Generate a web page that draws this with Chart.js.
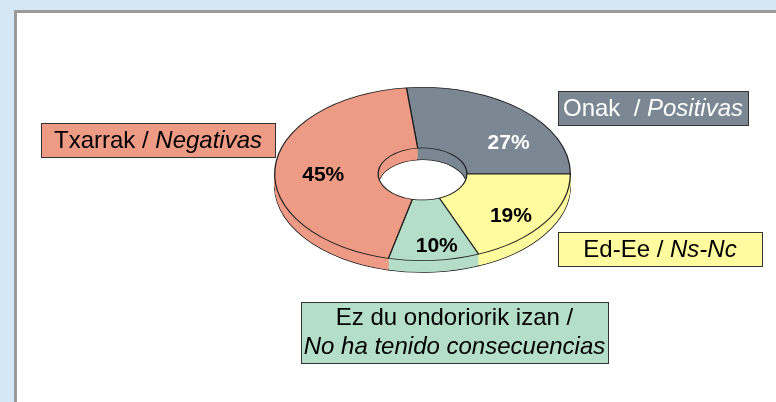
<!DOCTYPE html>
<html>
<head>
<meta charset="utf-8">
<script src="https://cdn.jsdelivr.net/npm/chart.js@4/dist/chart.umd.min.js"></script>
<style>
  html, body { margin: 0; padding: 0; }
  body { width: 776px; height: 402px; background: #d5e7f5; position: relative; overflow: hidden; }
  #panel { position: absolute; left: 14px; top: 10px; right: -10px; bottom: -10px;
           background: #fff; border-left: 3px solid #9a9a9a; border-top: 3px solid #9a9a9a; }
  #chart { position: absolute; left: 0; top: 0; }
</style>
</head>
<body>
<div id="panel"></div>
<canvas id="chart" width="776" height="402"></canvas>
<script>
// data
var labelsEu = ['Onak', 'Ed-Ee', 'Ez du ondoriorik izan', 'Txarrak'];
var labelsEs = ['Positivas', 'Ns-Nc', 'No ha tenido consecuencias', 'Negativas'];
var percents = [27, 19, 10, 45];
var sliceColors = ['#7b8894', '#fffb9e', '#b5dec8', '#ee9b86'];
var textColors = ['#ffffff', '#000000', '#000000', '#000000'];

// 3d look: squash the ring and stack copies under it for the side wall
var tiltPlugin = {
  id: 'tilt',
  beforeDatasetsDraw: function (chart, args, opts) {
    var ctx = chart.ctx;
    var meta = chart.getDatasetMeta(0);
    var cx = meta.data[0].x, cy = meta.data[0].y;
    ctx.save();
    ctx.translate(cx, opts.centerY);
    ctx.scale(1, opts.ratio);
    ctx.translate(-cx, -cy);
    var depth = Math.round(opts.depth / opts.ratio);
    for (var d = depth; d >= 1; d--) {
      ctx.save();
      ctx.translate(0, d);
      meta.data.forEach(function (arc) {
        var o = arc.options;
        if (d < depth) arc.options = Object.assign({}, o, { borderWidth: 0 });
        arc.draw(ctx);
        arc.options = o;
      });
      ctx.restore();
    }
  },
  afterDatasetsDraw: function (chart) {
    chart.ctx.restore();
  }
};

// percent labels and the label boxes
var labelPlugin = {
  id: 'boxLabels',
  afterDraw: function (chart, args, opts) {
    var ctx = chart.ctx;
    var meta = chart.getDatasetMeta(0);
    var ratio = chart.options.plugins.tilt.ratio;
    var centerY = chart.options.plugins.tilt.centerY;
    var ds = chart.data.datasets[0];

    ctx.save();
    ctx.textAlign = 'center';
    ctx.textBaseline = 'middle';
    ctx.font = 'bold 21px "Liberation Sans", Arial, sans-serif';
    meta.data.forEach(function (arc, i) {
      var mid = (arc.startAngle + arc.endAngle) / 2;
      var r = arc.outerRadius * 0.72;
      var x = arc.x + Math.cos(mid) * r + opts.nudge[i][0];
      var y = centerY + Math.sin(mid) * r * ratio + opts.nudge[i][1];
      ctx.fillStyle = textColors[i];
      ctx.fillText(ds.data[i] + '%', x, y);
    });

    var normal = '24px "Liberation Sans", Arial, sans-serif';
    var italic = 'italic 24px "Liberation Sans", Arial, sans-serif';
    opts.boxes.forEach(function (b, i) {
      ctx.fillStyle = ds.backgroundColor[i];
      ctx.fillRect(b.x, b.y, b.w, b.h);
      ctx.strokeStyle = '#333';
      ctx.lineWidth = 1;
      ctx.strokeRect(b.x + 0.5, b.y + 0.5, b.w, b.h);
      ctx.fillStyle = textColors[i];
      ctx.textAlign = 'left';
      var eu = chart.data.labels[i] + (i === 0 ? '  / ' : ' / ');
      var es = labelsEs[i];
      var cxBox = b.x + b.w / 2;
      if (b.twoLines) {
        ctx.font = normal;
        ctx.textAlign = 'center';
        ctx.fillText(eu.replace(/ $/, ''), cxBox, b.y + b.h * 0.27);
        ctx.font = italic;
        ctx.fillText(es, cxBox, b.y + b.h * 0.74);
      } else {
        ctx.font = normal;
        var w1 = ctx.measureText(eu).width;
        ctx.font = italic;
        var w2 = ctx.measureText(es).width;
        var x0 = cxBox - (w1 + w2) / 2;
        ctx.font = normal;
        ctx.fillText(eu, x0, b.y + b.h / 2 + 1);
        ctx.font = italic;
        ctx.fillText(es, x0 + w1, b.y + b.h / 2 + 1);
      }
    });
    ctx.restore();
  }
};

var pieData = {
  labels: labelsEu,
  datasets: [{
    data: percents,
    backgroundColor: sliceColors,
    borderColor: '#222',
    borderWidth: 1.3
  }]
};

var myChart = new Chart(document.getElementById('chart'), {
  type: 'doughnut',
  data: pieData,
  plugins: [tiltPlugin, labelPlugin],
  options: {
    responsive: false,
    animation: false,
    cutout: '30%',
    rotation: -6.24,
    layout: { padding: { left: 274, right: 205, top: 0, bottom: 0 } },
    plugins: {
      legend: { display: false },
      tooltip: { enabled: false },
      tilt: { ratio: 0.586, centerY: 174, depth: 12 },
      boxLabels: {
        nudge: [[15, 16], [0, 7], [6, 10], [7, 5]],
        boxes: [
          { x: 558, y: 91, w: 190, h: 34 },
          { x: 558, y: 232, w: 204, h: 34 },
          { x: 301, y: 302, w: 307, h: 61, twoLines: true },
          { x: 41, y: 123, w: 234, h: 34 }
        ]
      }
    }
  }
});
</script>
</body>
</html>
